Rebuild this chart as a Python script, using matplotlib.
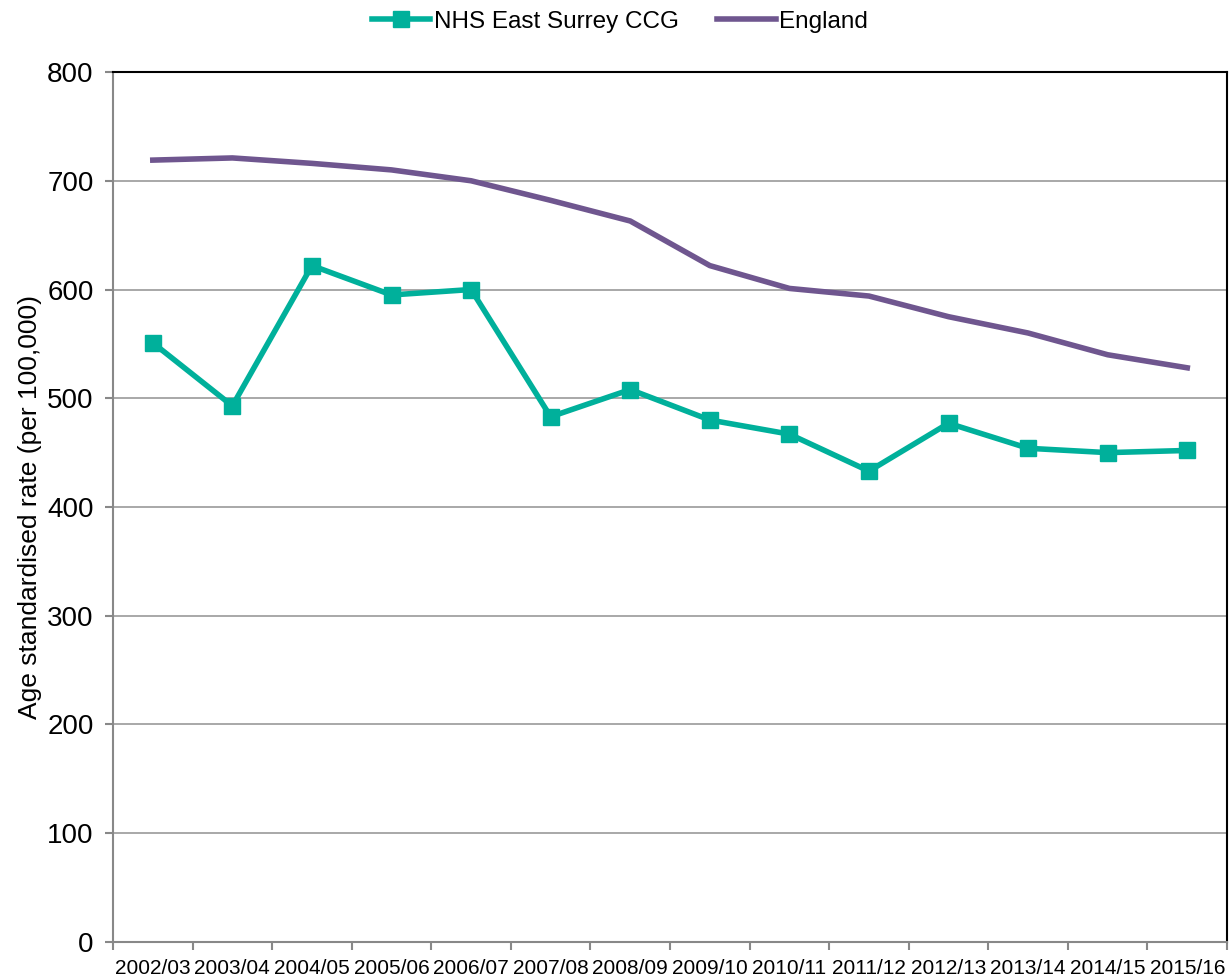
import matplotlib.pyplot as plt

plt.rcParams['font.family'] = ['Liberation Sans', 'DejaVu Sans']

years = ['2002/03', '2003/04', '2004/05', '2005/06', '2006/07', '2007/08', '2008/09',
         '2009/10', '2010/11', '2011/12', '2012/13', '2013/14', '2014/15', '2015/16']
east_surrey = [551, 493, 622, 595, 600, 483, 508, 480, 467, 433, 477, 454, 450, 452]
england = [719, 721, 716, 710, 700, 682, 663, 622, 601, 594, 575, 560, 540, 528]

fig = plt.figure(figsize=(12.31, 9.8), dpi=100)
ax = fig.add_axes([0.0918, 0.0388, 0.905, 0.8877])

x = list(range(len(years)))
ax.plot(x, east_surrey, color='#00B09B', lw=4, marker='s', ms=11,
        label='NHS East Surrey CCG')
ax.plot(x, england, color='#6F568F', lw=4, label='England')

ax.set_xlim(-0.5, len(years) - 0.5)
ax.set_ylim(0, 800)
ax.set_yticks(range(0, 801, 100))
ax.set_xticks(x)
ax.set_xticklabels(years, fontsize=15)
ax.set_xticks([i - 0.5 for i in range(len(years) + 1)], minor=True)
ax.tick_params(axis='x', which='major', length=0, pad=12)
ax.tick_params(axis='x', which='minor', length=6, color='#888888', width=1.5)
ax.tick_params(axis='y', labelsize=20, length=6, color='#888888', width=1.5, pad=8)
ax.yaxis.grid(True, color='#999999', lw=1.2)
ax.set_axisbelow(True)

for side in ['left', 'bottom']:
    ax.spines[side].set_color('#888888')
    ax.spines[side].set_linewidth(1.5)
for side in ['top', 'right']:
    ax.spines[side].set_color('black')
    ax.spines[side].set_linewidth(1.5)

ax.set_ylabel('Age standardised rate (per 100,000)', fontsize=19, labelpad=4)

ax.legend(loc='center', bbox_to_anchor=(0.455, 1.058), ncol=2, frameon=False,
          fontsize=17.5, handlelength=2.4, columnspacing=1.6, handletextpad=0.15)

fig.savefig('out.png', dpi=100)
